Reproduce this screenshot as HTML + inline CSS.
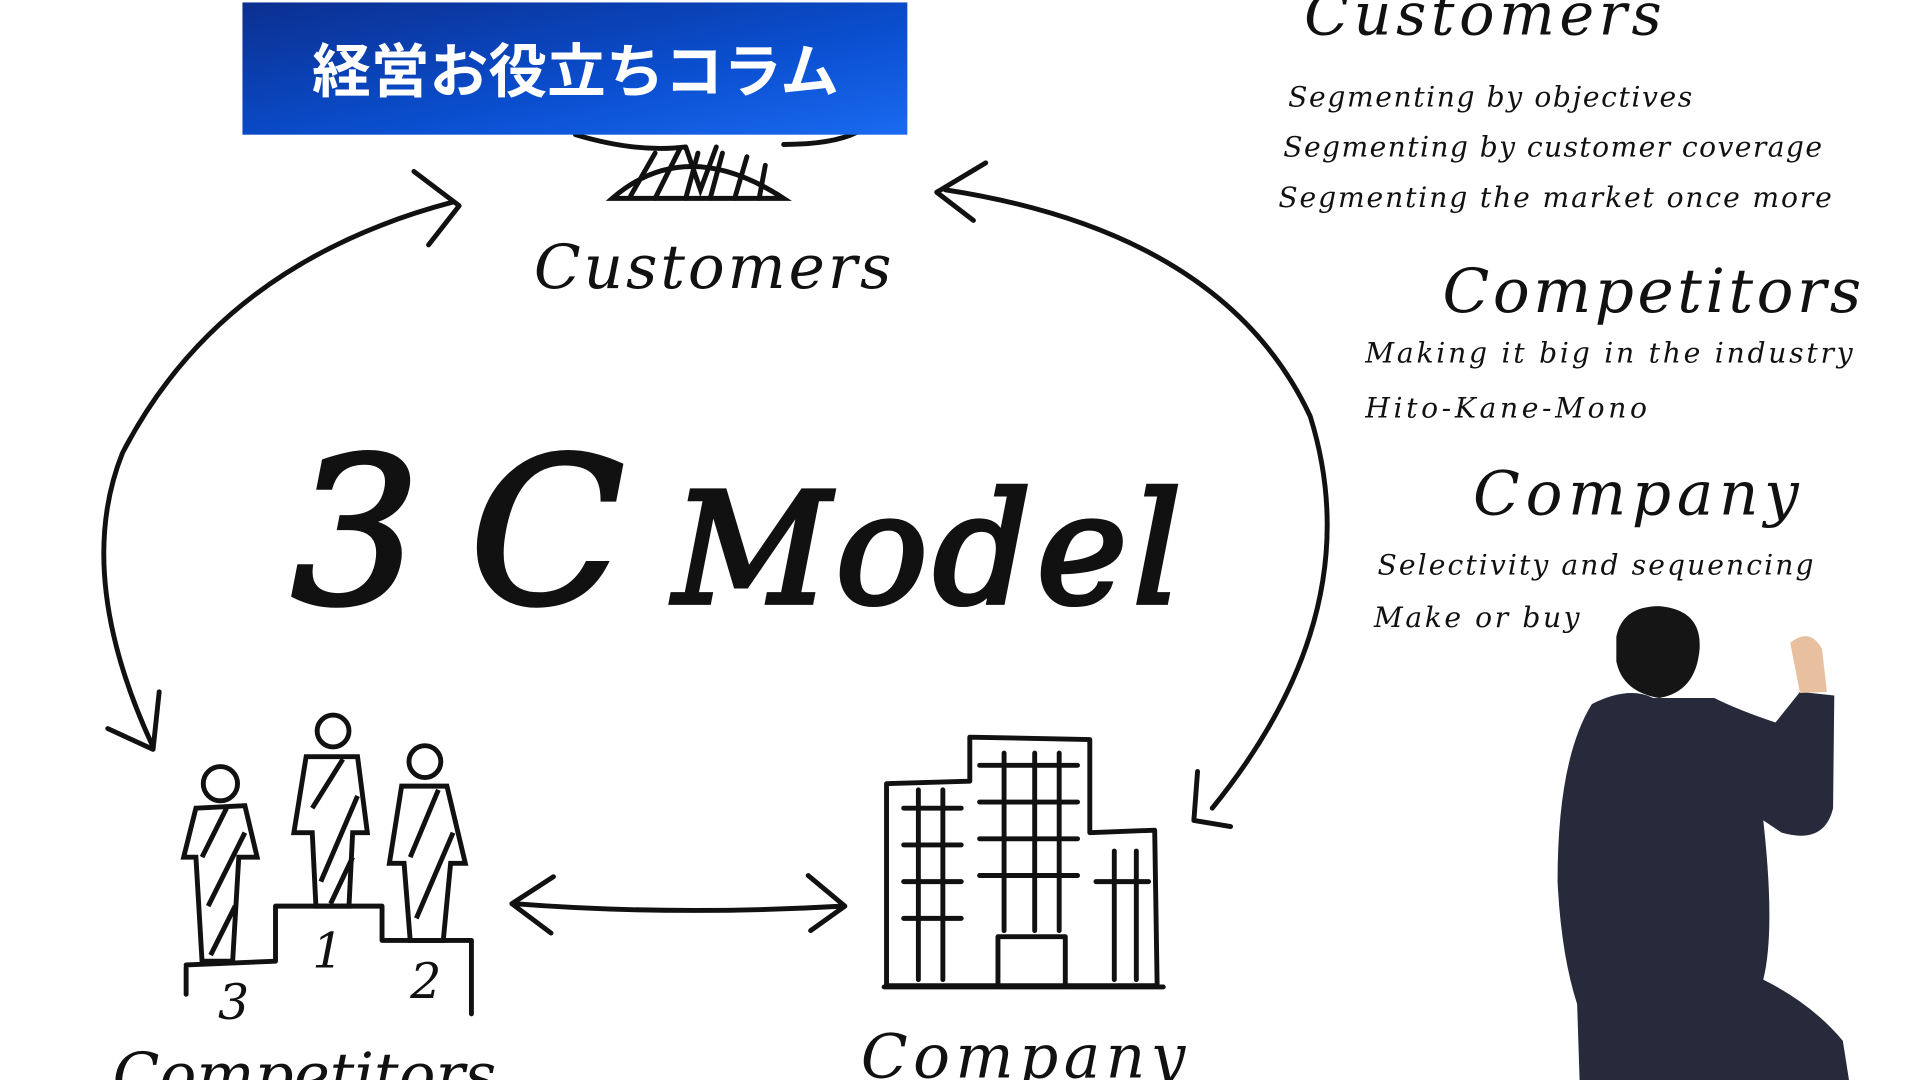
<!DOCTYPE html>
<html><head><meta charset="utf-8"><style>
html,body{margin:0;padding:0;background:#fff;width:1920px;height:1080px;overflow:hidden}
svg{display:block}
.h{font-family:"DejaVu Serif","Liberation Serif",serif;font-style:italic;fill:#111}
.b{stroke:#111;stroke-width:4}
</style></head><body>
<svg width="1920" height="1080" viewBox="0 0 1568 882" xmlns="http://www.w3.org/2000/svg">
<defs><linearGradient id="g" x1="0" x2="1" y1="0" y2="1"><stop offset="0" stop-color="#0b2f8f"/><stop offset="0.6" stop-color="#0a4fd0"/><stop offset="1" stop-color="#1a6af0"/></linearGradient></defs>
<rect width="1568" height="882" fill="#fff"/>
<g fill="none" stroke="#111" stroke-width="4" stroke-linecap="round">
<path d="M470 110 Q520 125 560 120 M640 118 Q680 118 700 108"/>
<path d="M500 162 Q560 110 640 162 Z"/>
<path d="M515 160 L535 125 M535 162 L555 122 M560 162 L570 125 M580 162 L590 125 M600 162 L610 128 M620 162 L625 135"/>
<path d="M560 120 L572 155 L585 120"/>
</g>
<rect x="198" y="2" width="543" height="108" fill="url(#g)"/>
<text x="470" y="75" text-anchor="middle" font-family="'Noto Sans CJK JP',sans-serif" font-weight="700" font-size="48" fill="#fff">経営お役立ちコラム</text>
<text class="h" x="436" y="235" font-size="50" textLength="292">Customers</text>
<text class="h" x="1065" y="28" font-size="48" textLength="292">Customers</text>
<text class="h" x="1052" y="87" font-size="23" textLength="330">Segmenting by objectives</text>
<text class="h" x="1048" y="128" font-size="23" textLength="440">Segmenting by customer coverage</text>
<text class="h" x="1044" y="169" font-size="23" textLength="452">Segmenting the market once more</text>
<text class="h" x="1178" y="255" font-size="50" textLength="342">Competitors</text>
<text class="h" x="1115" y="296" font-size="23" textLength="398">Making it big in the industry</text>
<text class="h" x="1115" y="341" font-size="23" textLength="230">Hito-Kane-Mono</text>
<text class="h" x="1203" y="420" font-size="50" textLength="266">Company</text>
<text class="h" x="1125" y="469" font-size="23" textLength="356">Selectivity and sequencing</text>
<text class="h" x="1122" y="512" font-size="23" textLength="168">Make or buy</text>
<text class="h b" x="238" y="492" font-size="165" textLength="272">3C</text>
<text class="h b" x="550" y="492" font-size="125" textLength="415">Model</text>
<text class="h" x="703" y="880" font-size="50" textLength="265">Company</text>
<text class="h" x="92" y="895" font-size="50">Competitors</text>
<g fill="none" stroke="#111" stroke-width="4" stroke-linecap="round" stroke-linejoin="round">
<path d="M370 165 Q180 215 100 370 Q60 470 125 610"/>
<path d="M338 140 L375 168 L350 200"/>
<path d="M88 595 L125 612 L130 565"/>
<path d="M772 155 Q1000 190 1070 340 Q1120 500 990 660"/>
<path d="M805 133 L765 157 L795 180"/>
<path d="M978 630 L975 670 L1005 675"/>
<path d="M420 738 Q550 748 688 740"/>
<path d="M452 716 L418 738 L450 762"/>
<path d="M660 715 L690 740 L662 760"/>
<path d="M152 790 L152 812 M152 788 L225 785 L225 740 L312 740 L312 768 L385 768 L385 828"/>
<path d="M724 805 L724 640 L792 638 L792 602 L890 604 L890 680 L943 678 L945 805 Z M722 806 L950 806"/>
<path d="M738 660 L785 660 M738 690 L785 690 M738 720 L785 720 M738 750 L785 750 M750 645 L750 800 M770 645 L770 800"/>
<path d="M800 625 L880 625 M800 655 L880 655 M800 685 L880 685 M800 715 L880 715 M820 615 L820 760 M845 615 L845 760 M865 615 L865 760"/>
<path d="M895 720 L938 720 M910 695 L910 800 M928 695 L928 800 M815 805 L815 765 L870 765 L870 805"/>
</g>
<g fill="none" stroke="#111" stroke-width="4">
<circle cx="180" cy="640" r="14"/><path d="M160 660 L200 658 L210 700 L195 700 L190 785 L165 785 L160 700 L150 700 Z"/>
<circle cx="272" cy="597" r="13"/><path d="M250 618 L292 618 L300 680 L288 680 L285 740 L258 740 L255 680 L240 680 Z"/>
<circle cx="347" cy="622" r="13"/><path d="M328 642 L365 642 L380 705 L368 705 L362 768 L335 768 L330 705 L318 705 Z"/>
<path d="M165 700 L185 660 M170 740 L200 680 M172 780 L192 740 M255 660 L280 620 M262 720 L292 650 M270 738 L288 700 M335 700 L358 645 M340 750 L370 680"/>
</g>
<text class="h" x="255" y="790" font-size="40">1</text>
<text class="h" x="335" y="815" font-size="40">2</text>
<text class="h" x="178" y="832" font-size="40">3</text>
<path d="M1300 575 Q1330 560 1350 570 L1400 570 Q1420 580 1450 590 L1470 565 L1498 568 L1497 660 Q1490 690 1455 680 L1440 670 Q1450 760 1440 800 Q1480 820 1505 850 L1510 882 L1290 882 L1288 820 Q1275 780 1272 720 Q1272 620 1300 575 Z" fill="#262a3a"/>
<path d="M1320 520 Q1325 495 1355 495 Q1390 498 1388 530 Q1385 565 1355 570 Q1325 565 1320 540 Z" fill="#151515"/>
<path d="M1462 525 Q1478 512 1488 530 L1492 565 L1470 566 Z" fill="#e8c0a0"/>
</svg>
</body></html>
